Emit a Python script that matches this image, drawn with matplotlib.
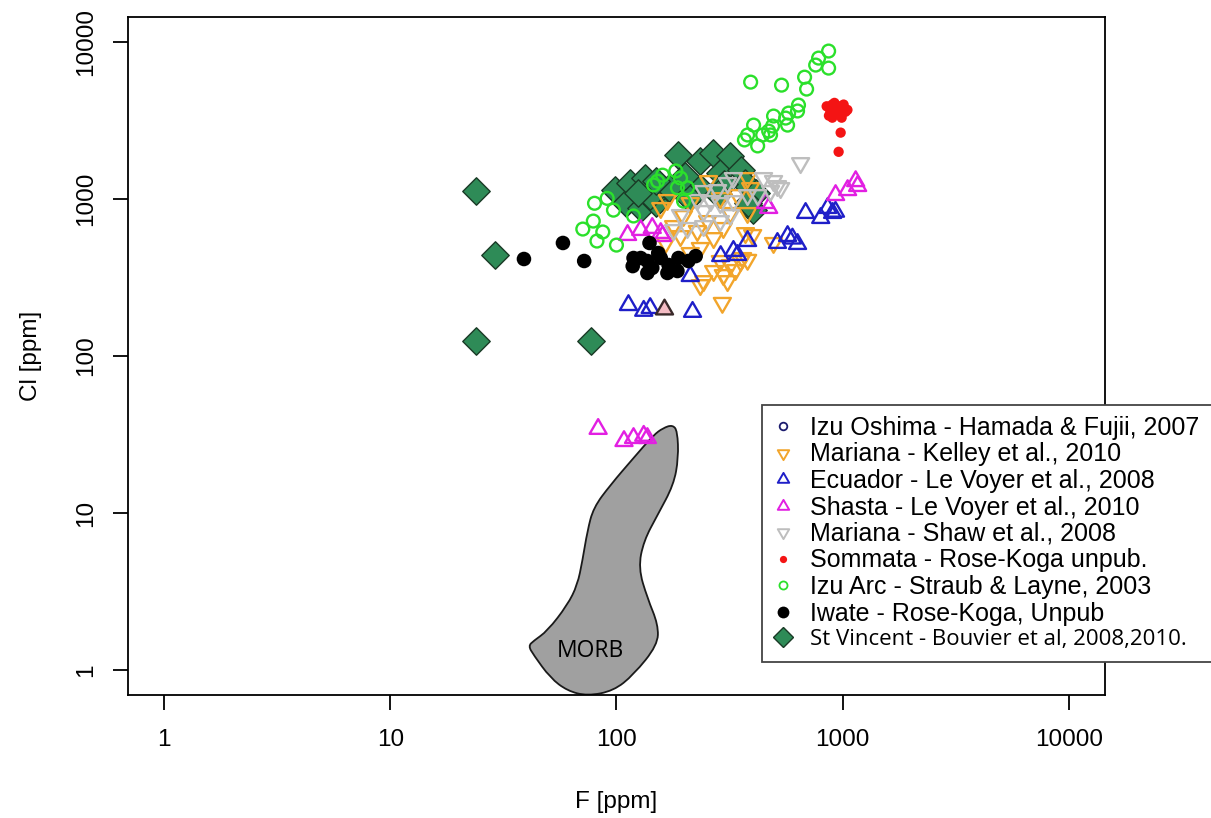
import numpy as np
import matplotlib
matplotlib.use("Agg")
import matplotlib.pyplot as plt
from matplotlib.lines import Line2D
from matplotlib.path import Path
from matplotlib.patches import PathPatch
from matplotlib.ticker import NullLocator

plt.rcParams['font.family'] = ['Liberation Sans', 'DejaVu Sans']

# ---------------- data (F ppm, Cl ppm) ----------------
series_names = [
    "Izu Oshima - Hamada & Fujii, 2007",
    "Mariana - Kelley et al., 2010",
    "Ecuador - Le Voyer et al., 2008",
    "Shasta - Le Voyer et al., 2010",
    "Mariana - Shaw et al., 2008",
    "Sommata - Rose-Koga unpub.",
    "Izu Arc - Straub & Layne, 2003",
    "Iwate - Rose-Koga, Unpub",
    "St Vincent - Bouvier et al, 2008,2010.",
]

izuoshima_F = []
izuoshima_Cl = []

kelley_F = [380, 255, 168, 198, 179, 192, 228, 269, 297, 380, 400, 392, 343, 253, 288,
            319, 354, 297, 269, 243, 310, 235, 294, 495, 336, 361, 380, 212, 288, 157,
            319, 372, 235, 165, 212]
kelley_Cl = [1361, 1303, 986, 780, 673, 581, 626, 564, 654, 815, 590, 1175, 1060, 724, 403,
             380, 403, 328, 348, 300, 300, 283, 218, 525, 353, 421, 410, 943, 1014, 877,
             815, 607, 488, 525, 453]

ecuador_F = [686, 800, 859, 903, 515, 571, 632, 380, 329, 289, 343, 212, 113, 132, 141, 217, 600, 930]
ecuador_Cl = [815, 757, 877, 815, 525, 581, 517, 540, 467, 433, 440, 323, 211, 194, 202, 191, 560, 830]

shasta_F = [1142, 1165, 1052, 931, 456, 471, 112, 128, 144, 157, 160, 83, 108, 119, 132, 137]
shasta_Cl = [1300, 1210, 1140, 1060, 943, 877, 590, 635, 654, 607, 581, 34.3, 28.7, 30, 31, 30]

shaw_F = [329, 310, 447, 515, 480, 280, 243, 228, 261, 288, 329, 192, 179, 206, 243, 380,
          421, 319, 288, 243, 532, 495, 652]
shaw_Cl = [1361, 1265, 1361, 1210, 1125, 1141, 1125, 986, 971, 943, 971, 791, 635, 654, 839, 1060,
           1060, 791, 724, 673, 1175, 1303, 1695]

sommata_F = [850, 880, 900, 920, 940, 960, 980, 1000, 1010, 1030, 870, 900, 940, 990, 1050, 920, 980, 960]
sommata_Cl = [3900, 3700, 4000, 3600, 3800, 3900, 3500, 3700, 4000, 3600, 3400, 3300, 3500, 3300,
              3700, 4100, 2650, 2000]

izuarc_F = [867, 783, 760, 867, 392, 537, 679, 693, 638, 577, 632, 560, 571, 495, 490, 471, 404,
            380, 368, 421, 480, 443, 146, 160, 183, 192, 206, 186, 198, 152, 80, 91, 97, 79, 71,
            87, 82, 100, 119]
izuarc_Cl = [8770, 7910, 7140, 6830, 5560, 5320, 5980, 5020, 3970, 3530, 3640, 3280, 2960, 3380,
             2920, 2710, 2960, 2560, 2380, 2180, 2560, 2560, 1230, 1420, 1510, 1360, 1180, 1180,
             970, 1300, 940, 1010, 850, 724, 644, 617, 540, 509, 780]

iwate_F = [39, 58, 72, 140, 119, 118, 137, 153, 144, 137, 170, 188, 186, 168, 208, 224, 157, 128]
iwate_Cl = [415, 525, 403, 525, 421, 374, 403, 453, 364, 338, 380, 421, 348, 338, 403, 433, 421, 421]

stvincent_F = [24, 29, 24, 77, 99, 110, 128, 149, 115, 134, 157, 188, 235, 266, 288, 319, 354,
               372, 412, 235, 210, 170, 140, 125, 150, 300, 280, 200, 400, 380]
stvincent_Cl = [1125, 440, 125, 125, 1140, 940, 880, 940, 1260, 1360, 1170, 1900, 1750, 1960, 1470,
                1880, 1530, 1270, 1090, 1170, 1010, 1170, 1050, 1100, 1300, 1250, 1080, 1400, 850, 950]

# single odd point (pink-filled triangle)
odd_F = [163]
odd_Cl = [200]

# MORB field outline (control points)
morb_F = [177, 186, 188, 179, 152, 132, 125, 137, 153, 152, 119, 97, 74.4, 60.7, 51, 43, 40.8,
          43, 49.5, 60.7, 67.2, 70.7, 74.4, 79.1, 94.1, 119, 146, 161]
morb_Cl = [36.4, 33.3, 22.4, 15.1, 9.71, 6.63, 4.46, 2.87, 1.94, 1.44, 0.93, 0.735, 0.683, 0.735,
           0.889, 1.246, 1.42, 1.53, 1.77, 2.59, 3.48, 4.95, 7.68, 10.8, 15.1, 22.4, 31.4, 34.8]

tick_values = [1, 10, 100, 1000, 10000]
tick_labels = ["1", "10", "100", "1000", "10000"]

# ---------------- styles ----------------
tri_up = Path([(0, 1), (-0.866, -0.5), (0.866, -0.5), (0, 1)],
              [Path.MOVETO, Path.LINETO, Path.LINETO, Path.CLOSEPOLY])
tri_dn = Path([(0, -1), (-0.866, 0.5), (0.866, 0.5), (0, -1)],
              [Path.MOVETO, Path.LINETO, Path.LINETO, Path.CLOSEPOLY])

c_navy = '#1C1C6E'
c_orange = '#F2A52B'
c_blue = '#1F1FC8'
c_magenta = '#E21FE2'
c_gray = '#BEBEBE'
c_red = '#F41414'
c_green = '#2BE02B'
c_sv = '#2E8B57'
c_sv_edge = '#1A3A26'

fig = plt.figure(figsize=(12.11, 8.18), dpi=100)
ax = fig.add_axes([127.9 / 1211, 1 - 695 / 818, (1105 - 127.9) / 1211, (695 - 17) / 818])
ax.set_xscale('log')
ax.set_yscale('log')
ax.set_xlim(10 ** -0.16, 10 ** 4.16)
ax.set_ylim(10 ** -0.16, 10 ** 4.16)

# MORB field: smooth closed outline through the control points (log space midpoints)
lx = np.log10(morb_F)
ly = np.log10(morb_Cl)
mx = 10 ** ((lx + np.roll(lx, -1)) / 2)
my = 10 ** ((ly + np.roll(ly, -1)) / 2)
verts = [(mx[-1], my[-1])]
codes = [Path.MOVETO]
for i in range(len(morb_F)):
    verts += [(morb_F[i], morb_Cl[i]), (mx[i], my[i])]
    codes += [Path.CURVE3, Path.CURVE3]
verts.append(verts[0])
codes.append(Path.CLOSEPOLY)
ax.add_patch(PathPatch(Path(verts, codes), facecolor='#A0A0A0', edgecolor='#1a1a1a',
                       linewidth=1.3, zorder=1))
ax.text(77, 1.32, "MORB", family=['Open Sans', 'DejaVu Sans'], fontsize=16.5,
        ha='center', va='center', zorder=2)

tri_s = 200
ax.scatter(stvincent_F, stvincent_Cl, marker='D', s=195, facecolor=c_sv,
           edgecolor=c_sv_edge, linewidth=1.0, zorder=3)
ax.scatter(kelley_F, kelley_Cl, marker=tri_dn, s=tri_s, facecolor='none',
           edgecolor=c_orange, linewidth=1.7, zorder=4)
ax.scatter(ecuador_F, ecuador_Cl, marker=tri_up, s=tri_s, facecolor='none',
           edgecolor=c_blue, linewidth=1.7, zorder=5)
ax.scatter(shasta_F, shasta_Cl, marker=tri_up, s=tri_s, facecolor='none',
           edgecolor=c_magenta, linewidth=1.7, zorder=6)
ax.scatter(odd_F, odd_Cl, marker=tri_up, s=tri_s, facecolor='#F4BCC4',
           edgecolor='#3a2a2a', linewidth=1.7, zorder=6)
ax.scatter(shaw_F, shaw_Cl, marker=tri_dn, s=tri_s, facecolor='none',
           edgecolor=c_gray, linewidth=1.7, zorder=7)
ax.scatter(sommata_F, sommata_Cl, marker='o', s=55, facecolor=c_red,
           edgecolor='none', zorder=8)
ax.scatter(izuarc_F, izuarc_Cl, marker='o', s=85, facecolor='none',
           edgecolor=c_green, linewidth=1.7, zorder=9)
ax.scatter(iwate_F, iwate_Cl, marker='o', s=110, facecolor='black',
           edgecolor='none', zorder=10)
ax.scatter(izuoshima_F, izuoshima_Cl, marker='o', s=85, facecolor='none',
           edgecolor=c_navy, linewidth=1.3, zorder=10)

# axes styling
ax.set_xticks(tick_values)
ax.set_xticklabels(tick_labels)
ax.set_yticks(tick_values)
ax.set_yticklabels(tick_labels)
ax.xaxis.set_minor_locator(NullLocator())
ax.yaxis.set_minor_locator(NullLocator())
for sp in ax.spines.values():
    sp.set_linewidth(1.3)
ax.tick_params(axis='both', direction='out', length=10.8, width=1.3, labelsize=17.5)
ax.tick_params(axis='x', pad=14)
ax.tick_params(axis='y', pad=11.5, labelrotation=90)
for lbl in ax.get_yticklabels():
    lbl.set_va('center')
    lbl.set_ha('right')

ax.set_xlabel("F [ppm]", fontsize=17.5)
ax.xaxis.label.set_va('baseline')
ax.xaxis.set_label_coords(0.5, (695 - 808) / 678)
ax.set_ylabel("Cl [ppm]", fontsize=17.5)
ax.yaxis.label.set_va('baseline')
ax.yaxis.set_label_coords((37.5 - 127.9) / 977, 0.5)

# legend
handles = [
    Line2D([], [], ls='none', marker='o', ms=5.5, mfc='none', mec=c_navy, mew=1.3),
    Line2D([], [], ls='none', marker=tri_dn, ms=9.5, mfc='none', mec=c_orange, mew=1.4),
    Line2D([], [], ls='none', marker=tri_up, ms=9.5, mfc='none', mec=c_blue, mew=1.4),
    Line2D([], [], ls='none', marker=tri_up, ms=9.5, mfc='none', mec=c_magenta, mew=1.4),
    Line2D([], [], ls='none', marker=tri_dn, ms=9.5, mfc='none', mec=c_gray, mew=1.4),
    Line2D([], [], ls='none', marker='o', ms=5.2, mfc=c_red, mec='none'),
    Line2D([], [], ls='none', marker='o', ms=5.8, mfc='none', mec=c_green, mew=1.3),
    Line2D([], [], ls='none', marker='o', ms=8.5, mfc='black', mec='none'),
    Line2D([], [], ls='none', marker='D', ms=9.8, mfc=c_sv, mec=c_sv_edge, mew=1.0),
]
top_y = 1 - 405 / 818
leg = fig.legend(handles, series_names, loc='upper left', mode='expand',
                 bbox_to_anchor=(762 / 1211, 0, 500 / 1211, top_y), bbox_transform=fig.transFigure,
                 fontsize=18, frameon=True, fancybox=False, shadow=False, framealpha=1,
                 edgecolor='#444444', borderpad=0.44, borderaxespad=0, handlelength=0.8,
                 handletextpad=0.68, labelspacing=0.1, numpoints=1)
leg.get_frame().set_linewidth(1.3)
last = leg.get_texts()[-1]
last.set_fontfamily(['Open Sans', 'DejaVu Sans'])
last.set_fontsize(16)

fig.savefig("out.png", dpi=100)
